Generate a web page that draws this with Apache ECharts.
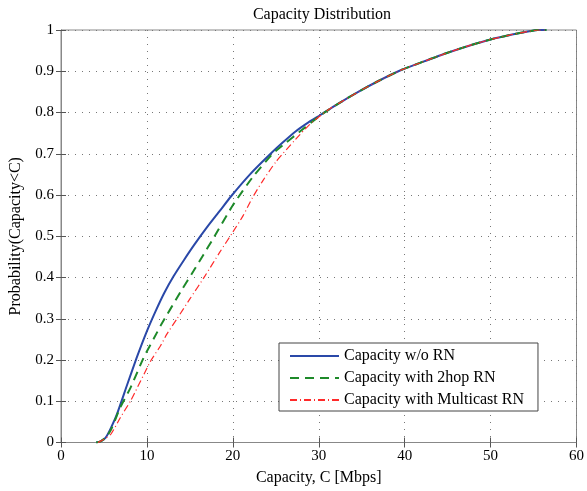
<!DOCTYPE html>
<html><head><meta charset="utf-8">
<script src="https://cdn.jsdelivr.net/npm/echarts@6/dist/echarts.min.js"></script>
<style>html,body{margin:0;padding:0;background:#fff}#c{width:587px;height:491px}</style>
</head><body><div id="c"></div>
<script>
const titleText = "Capacity Distribution";
const xName = "Capacity, C [Mbps]";
const yName = "Probability(Capacity<C)";
const seriesNames = ["Capacity w/o RN", "Capacity with 2hop RN", "Capacity with Multicast RN"];

const blueX = [4.1, 4.6, 5.2, 5.8, 6.5, 7.7, 8.8, 10.0, 11.0, 12.0, 13.1, 14.3, 15.5, 17.0, 18.5, 19.8, 22.0, 24.3, 25.8, 27.3, 28.8, 30.2, 32.0, 34.6, 37.0, 39.6, 42.0, 45.0, 47.5, 50.0, 52.5, 54.5, 55.5, 56.5];
const blueY = [0, 0.003, 0.012, 0.035, 0.068, 0.14, 0.205, 0.27, 0.318, 0.362, 0.403, 0.442, 0.479, 0.522, 0.562, 0.597, 0.65, 0.698, 0.727, 0.754, 0.776, 0.794, 0.818, 0.850, 0.877, 0.903, 0.922, 0.945, 0.962, 0.977, 0.989, 0.997, 1.0, 1.0];

const greenX = [4.1, 4.6, 5.2, 5.8, 6.9, 8.1, 9.6, 10.8, 11.7, 14.0, 15.4, 16.6, 17.7, 20.0, 22.3, 24.6, 26.2, 27.7, 30.0, 32.0, 34.6, 37.0, 39.6, 42.0, 45.0, 47.5, 50.0, 52.5, 54.5, 55.5, 56.5];
const greenY = [0, 0.003, 0.012, 0.03, 0.085, 0.133, 0.205, 0.252, 0.287, 0.368, 0.415, 0.456, 0.494, 0.575, 0.643, 0.699, 0.727, 0.752, 0.79, 0.818, 0.850, 0.877, 0.903, 0.922, 0.945, 0.962, 0.977, 0.989, 0.997, 1.0, 1.0];

const redX = [4.3, 5.0, 5.8, 6.9, 8.1, 8.5, 10.0, 10.5, 11.6, 12.3, 13.5, 15.0, 16.8, 18.5, 20.0, 21.2, 22.3, 23.5, 25.0, 27.3, 28.9, 31.0, 34.6, 37.0, 39.6, 42.0, 45.0, 47.5, 50.0, 52.5, 54.5, 55.5, 56.5];
const redY = [0, 0.008, 0.02, 0.06, 0.101, 0.117, 0.18, 0.20, 0.235, 0.262, 0.30, 0.348, 0.405, 0.462, 0.51, 0.55, 0.594, 0.635, 0.68, 0.735, 0.77, 0.805, 0.850, 0.877, 0.903, 0.922, 0.945, 0.962, 0.977, 0.989, 0.997, 1.0, 1.0];

const xTicks = [0, 10, 20, 30, 40, 50, 60];
const yTicks = [0, 0.1, 0.2, 0.3, 0.4, 0.5, 0.6, 0.7, 0.8, 0.9, 1];

function pairs(xs, ys){ return xs.map((x,i)=>[x, ys[i]]); }

const FONT = "Liberation Serif";
const AX = '#888';
const chart = echarts.init(document.getElementById('c'), null, {renderer:'canvas'});
const gridLine = {show:true, lineStyle:{color:'#777', type:[1,6], width:1}};
chart.setOption({
  animation:false,
  backgroundColor:'#fff',
  title:{text:titleText, left:317, textAlign:'center', top:2,
    textStyle:{fontFamily:FONT, fontSize:16, fontWeight:'normal', color:'#000'}},
  grid:{left:56.5, right:10, top:30, bottom:48.5, show:true, borderColor:AX, borderWidth:1, backgroundColor:'#fff'},
  legend:{
    orient:'vertical', left:279, top:343, data:seriesNames,
    backgroundColor:'#fff', borderColor:'#444', borderWidth:1,
    padding:[5,14,3,10], itemWidth:49, itemHeight:14, itemGap:6,
    itemStyle:{opacity:0},
    textStyle:{fontFamily:FONT, fontSize:16, color:'#000'}
  },
  xAxis:[{
    type:'value', min:0, max:60, interval:10, position:'bottom',
    name:xName, nameLocation:'middle', nameGap:27,
    nameTextStyle:{fontFamily:FONT, fontSize:16, color:'#000'},
    axisLine:{show:true, lineStyle:{color:AX}},
    axisTick:{show:true, inside:true, length:5, lineStyle:{color:'#555'}},
    axisLabel:{fontFamily:FONT, fontSize:15, color:'#000', margin:6},
    splitLine:gridLine
  },{
    type:'value', min:0, max:60, interval:10, position:'top',
    axisLine:{show:true, lineStyle:{color:AX}},
    axisTick:{show:true, inside:true, length:5, lineStyle:{color:'#555'}},
    axisLabel:{show:false}, splitLine:{show:false}
  }],
  yAxis:[{
    type:'value', min:0, max:1, interval:0.1, position:'left',
    name:yName, nameLocation:'middle', nameGap:37, nameRotate:90,
    nameTextStyle:{fontFamily:FONT, fontSize:16, color:'#000'},
    axisLine:{show:true, lineStyle:{color:AX}},
    axisTick:{show:true, inside:true, length:5, lineStyle:{color:'#555'}},
    axisLabel:{fontFamily:FONT, fontSize:15, color:'#000', margin:7},
    splitLine:gridLine
  },{
    type:'value', min:0, max:1, interval:0.1, position:'right',
    axisLine:{show:true, lineStyle:{color:AX}},
    axisTick:{show:true, inside:true, length:5, lineStyle:{color:'#555'}},
    axisLabel:{show:false}, splitLine:{show:false}
  }],
  series:[
    {name:seriesNames[0], type:'line', data:pairs(blueX, blueY), showSymbol:false, symbol:'none', smooth:0.2,
      lineStyle:{color:'#2a48a8', width:2}, itemStyle:{color:'#2a48a8'}, z:3},
    {name:seriesNames[1], type:'line', data:pairs(greenX, greenY), showSymbol:false, symbol:'none', smooth:0.2,
      lineStyle:{color:'#1e8a2a', width:2, type:[9,6]}, itemStyle:{color:'#1e8a2a'}, z:4},
    {name:seriesNames[2], type:'line', data:pairs(redX, redY), showSymbol:false, symbol:'none', smooth:0.2,
      lineStyle:{color:'#ff2a2a', width:1.2, type:[7,3,1,3]}, itemStyle:{color:'#ff2a2a'}, z:5}
  ]
});
</script></body></html>
